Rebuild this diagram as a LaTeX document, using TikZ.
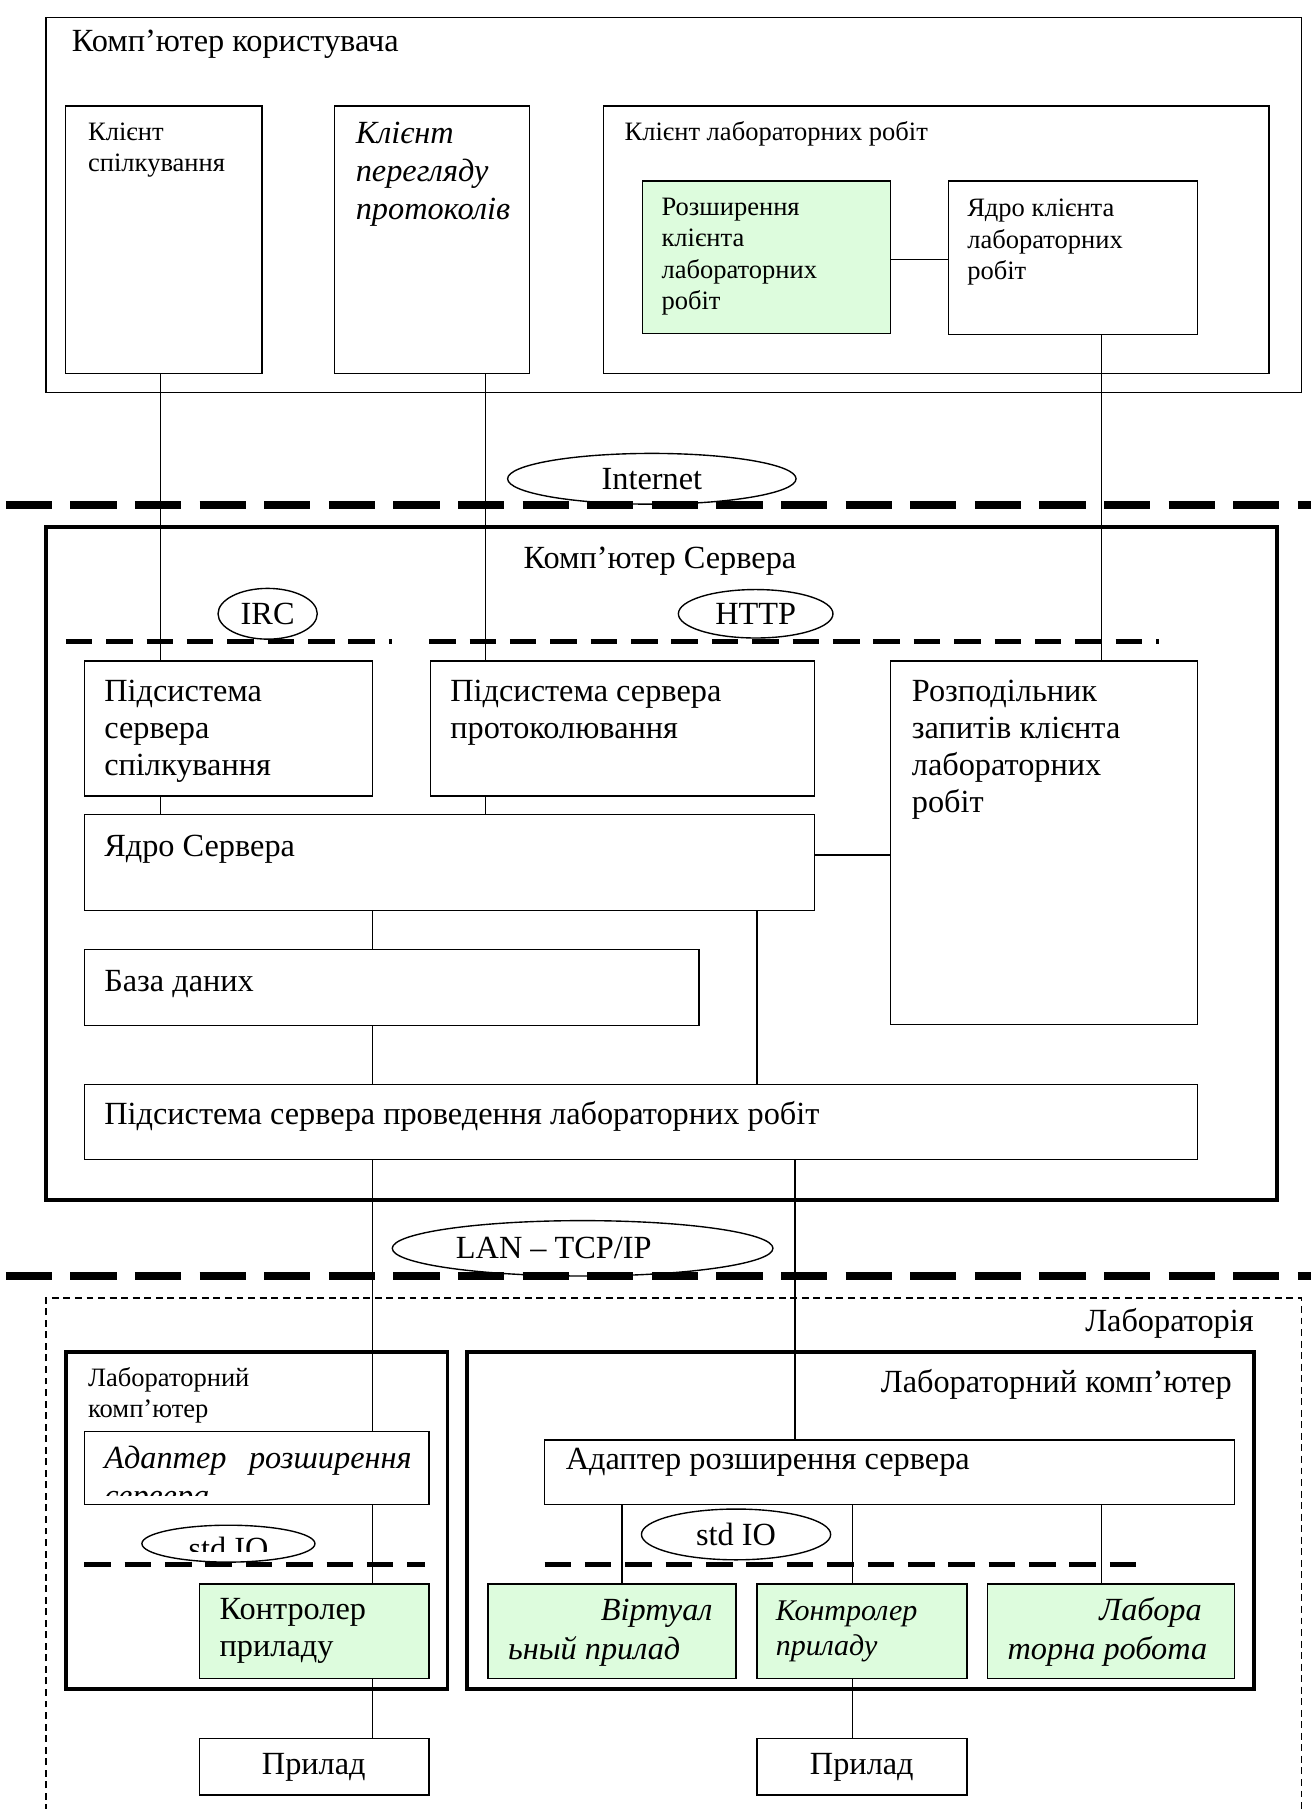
\documentclass[tikz,border=0pt]{standalone}
\usepackage{fontspec}
\setmainfont{Liberation Serif}
\usetikzlibrary{fit,shapes.geometric,calc}
\definecolor{lgreen}{RGB}{221,252,221}
\begin{document}
\begin{tikzpicture}[x=0.5pt,y=-0.5pt,
  box/.style={draw, line width=0.6pt, inner sep=0pt},
  thickbox/.style={draw, line width=1.6pt, inner sep=0pt},
  gbox/.style={box, fill=lgreen},
  big/.style={font=\fontsize{14}{16}\selectfont},
  bigi/.style={font=\fontsize{14}{16.5}\selectfont\itshape},
  small/.style={font=\fontsize{11.5}{13.5}\selectfont},
  lbl/.style={inner sep=0pt, anchor=base west, align=left},
  rlbl/.style={inner sep=0pt, anchor=base east, align=right},
  link/.style={line width=0.6pt},
  heavydash/.style={line width=3.5pt, dash pattern=on 20pt off 8pt},
  middash/.style={line width=2pt, dash pattern=on 11.5pt off 6pt},
  cloud/.style={draw, ellipse, line width=0.6pt, inner sep=0pt, fill=white, font=\fontsize{14}{16}\selectfont}
]
\useasboundingbox (0,0) rectangle (1136,1568);
\fill[white] (0,0) rectangle (1136,1568);

% (multi-line labels are placed by the baseline of their LAST line)
% ---------------- user computer ----------------
\node[box, fit={(40,15) (1128,340)}] (user) {};
\node[lbl, big] (usert) at (62,45) {Комп’ютер користувача};
\node[box, fit={(57,92) (227,324)}] (A) {};
\node[lbl, small] (At) at (76,149) {Клієнт\\спілкування};
\node[box, fit={(290,92) (459,324)}] (B) {};
\node[lbl, bigi] (Bt) at (308,190) {Клієнт\\перегляду\\протоколів};
\node[box, fit={(523,92) (1100,324)}] (C) {};
\node[lbl, small] (Ct) at (541,122) {Клієнт лабораторних робіт};
\node[gbox, fit={(557,157) (772,289)}] (D) {};
\node[lbl, small] (Dt) at (573,268) {Розширення\\клієнта\\лабораторних\\робіт};
\node[box, fit={(822,157) (1038,290)}] (E) {};
\node[lbl, small] (Et) at (838,242) {Ядро клієнта\\лабораторних\\робіт};

% ---------------- server ----------------
\node[thickbox, fit={(40,457) (1107,1040)}] (srv) {};
\node[inner sep=0pt, anchor=base, big] (srvt) at (572,493) {Комп’ютер Сервера};
\node[box, fit={(73,573) (323,690)}] (F) {};
\node[lbl, big] (Ft) at (90,672) {Підсистема\\сервера\\спілкування};
\node[box, fit={(373,573) (706,690)}] (G) {};
\node[lbl, big] (Gt) at (390,640) {Підсистема сервера\\протоколювання};
\node[box, fit={(772,573) (1038,888)}] (H) {};
\node[lbl, big] (Ht) at (790,704) {Розподільник\\запитів клієнта\\лабораторних\\робіт};
\node[box, fit={(73,706) (706,789)}] (I) {};
\node[lbl, big] (It) at (90,742) {Ядро Сервера};
\node[box, fit={(73,823) (606,889)}] (J) {};
\node[lbl, big] (Jt) at (90,859) {База даних};
\node[box, fit={(73,940) (1038,1005)}] (K) {};
\node[lbl, big] (Kt) at (90,975) {Підсистема сервера проведення лабораторних робіт};

% ---------------- laboratory ----------------
\draw[line width=0.6pt, dash pattern=on 3pt off 2pt] (40,1580) -- (40,1125) -- (1128,1125) -- (1128,1580);
\node[rlbl, big] (labt) at (1087,1154) {Лабораторія};

\node[thickbox, fit={(57,1172) (388,1464)}] (L1) {};
\node[lbl, small] (L1t) at (76,1229) {Лабораторний\\комп’ютер};
\node[box, fit={(73,1241) (372,1304)}] (AdL) {};
\begin{scope}
  \clip (73,1241) rectangle (372,1296);
  \node[lbl, bigi] (AdLt) at (90,1306) {Адаптер\hspace{0.7em}розширення\\сервера};
\end{scope}
\node[gbox, fit={(173,1373) (372,1455)}] (KL) {};
\node[lbl, big] (KLt) at (190,1436) {Контролер\\приладу};
\node[box, fit={(173,1507) (372,1556)}] (PL) {};
\node[inner sep=0pt, big] (PLt) at (272,1532) {Прилад};

\node[thickbox, fit={(405,1172) (1087,1464)}] (L2) {};
\node[rlbl, big] (L2t) at (1068,1207) {Лабораторний комп’ютер};
\node[box, fit={(472,1248) (1070,1304)}] (AdR) {};
\node[lbl, big] (AdRt) at (490,1274) {Адаптер розширення сервера};
\node[gbox, fit={(423,1373) (638,1455)}] (V) {};
\node[rlbl, bigi] (Vt1) at (618,1405) {Віртуал};
\node[lbl, bigi] (Vt2) at (440,1438) {ьный прилад};
\node[gbox, fit={(656,1373) (838,1455)}] (KR) {};
\node[lbl, font=\fontsize{13}{15}\selectfont\itshape] (KRt) at (672,1435) {Контролер\\приладу};
\node[gbox, fit={(856,1373) (1070,1455)}] (W) {};
\node[rlbl, bigi] (Wt1) at (1042,1405) {Лабора};
\node[lbl, bigi] (Wt2) at (873,1438) {торна робота};
\node[box, fit={(656,1507) (838,1556)}] (PR) {};
\node[inner sep=0pt, big] (PRt) at (747,1532) {Прилад};

% ---------------- clouds ----------------
\node[cloud, minimum width=125pt, minimum height=22pt] (inet) at (565,415) {Internet};
\node[cloud, minimum width=43pt, minimum height=22pt] (irc) at (232,532) {IRC};
\node[cloud, minimum width=67pt, minimum height=21pt] (http) at (655,532) {HTTP};
\node[cloud, minimum width=165pt, minimum height=24pt] (lan) at (505,1082) {};
\node[inner sep=0pt, big] (lant) at (480,1082) {LAN – TCP/IP};
\node[cloud, minimum width=75pt, minimum height=16pt] (stdl) at (198,1338) {};
\begin{scope}
  \clip (120,1320) rectangle (280,1345);
  \node[inner sep=0pt, big] (stdlt) at (198,1342) {std IO};
\end{scope}
\node[cloud, minimum width=82pt, minimum height=22pt] (stdr) at (638,1330) {std IO};

% ---------------- dashed separators ----------------
\draw[heavydash] (5,438) -- (1136,438);
\draw[heavydash] (5,1106) -- (1136,1106);
\draw[middash] (57,556) -- (340,556);
\draw[middash] (372,556) -- (1005,556);
\draw[middash] (73,1356) -- (368,1356);
\draw[middash] (472,1356) -- (995,1356);

% ---------------- connectors ----------------
\coordinate (x1) at (139,0);
\coordinate (x2) at (421,0);
\coordinate (x3) at (955,0);
\coordinate (x4) at (323,0);
\coordinate (x5) at (656,0);
\coordinate (x6) at (689,0);
\coordinate (x7) at (539,0);
\coordinate (x8) at (739,0);
\coordinate (y1) at (0,225);
\coordinate (y2) at (0,741);
\draw[link] (D.east |- y1) -- (E.west |- y1);
\draw[link] (A.south -| x1) -- (F.north -| x1);
\draw[link] (B.south -| x2) -- (G.north -| x2);
\draw[link] (E.south -| x3) -- (H.north -| x3);
\draw[link] (F.south -| x1) -- (I.north -| x1);
\draw[link] (G.south -| x2) -- (I.north -| x2);
\draw[link] (I.east |- y2) -- (H.west |- y2);
\draw[link] (I.south -| x4) -- (J.north -| x4);
\draw[link] (J.south -| x4) -- (K.north -| x4);
\draw[link] (I.south -| x5) -- (K.north -| x5);
\draw[link] (K.south -| x4) -- (AdL.north -| x4);
\draw[link] (AdL.south -| x4) -- (KL.north -| x4);
\draw[link] (KL.south -| x4) -- (PL.north -| x4);
\draw[link] (K.south -| x6) -- (AdR.north -| x6);
\draw[link] (AdR.south -| x7) -- (V.north -| x7);
\draw[link] (AdR.south -| x8) -- (KR.north -| x8);
\draw[link] (AdR.south -| x3) -- (W.north -| x3);
\draw[link] (KR.south -| x8) -- (PR.north -| x8);
\end{tikzpicture}
\end{document}
